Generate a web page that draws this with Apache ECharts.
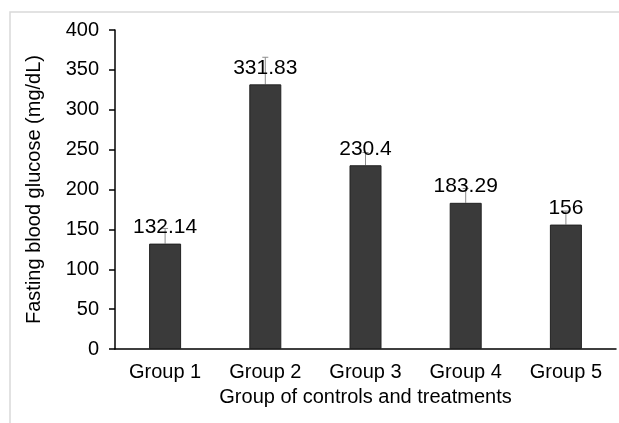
<!DOCTYPE html>
<html>
<head>
<meta charset="utf-8">
<script src="https://cdn.jsdelivr.net/npm/echarts@6/dist/echarts.min.js"></script>
<style>
  html, body { margin: 0; padding: 0; background: #fff; }
  #main { width: 619px; height: 423px; }
</style>
</head>
<body>
<div id="main"></div>
<script>
// data
var groups = ["Group 1", "Group 2", "Group 3", "Group 4", "Group 5"];
var glucose = [132.14, 331.83, 230.4, 183.29, 156];
var errors = [19, 34, 16, 18, 17];
var yTicks = [0, 400, 50];

var chart = echarts.init(document.getElementById("main"));

// upper error bar: line from the bar top to value + error, with a small cap
function renderError(params, api) {
  var x = api.value(0);
  var top = api.coord([x, api.value(1) + api.value(2)]);
  var base = api.coord([x, api.value(1)]);
  var style = { stroke: "#8c8c8c", lineWidth: 1 };
  return {
    type: "group",
    children: [
      { type: "line", shape: { x1: base[0], y1: base[1], x2: top[0], y2: top[1] }, style: style },
      { type: "line", shape: { x1: top[0] - 3, y1: top[1], x2: top[0] + 3, y2: top[1] }, style: style }
    ]
  };
}

var errData = glucose.map(function (v, i) {
  return [i, v, errors[i]];
});

var option = {
  animation: false,
  backgroundColor: "#fff",
  textStyle: { fontFamily: "Liberation Sans, Arial, sans-serif" },
  graphic: [{
    type: "rect",
    shape: { x: 10, y: 12, width: 640, height: 440 },
    style: { fill: "none", stroke: "#d9d9d9", lineWidth: 1.5 },
    silent: true
  }],
  grid: { left: 115, top: 30, right: 3, bottom: 74 },
  xAxis: {
    type: "category",
    data: groups,
    axisLine: { lineStyle: { color: "#000", width: 1.5 } },
    axisTick: { length: 6, lineStyle: { color: "#000", width: 1.5 } },
    axisLabel: { color: "#000", fontSize: 20, margin: 13 },
    name: "Group of controls and treatments",
    nameLocation: "middle",
    nameGap: 38,
    nameTextStyle: { color: "#000", fontSize: 20 }
  },
  yAxis: {
    type: "value",
    min: yTicks[0],
    max: yTicks[1],
    interval: yTicks[2],
    splitLine: { show: false },
    axisLine: { show: true, lineStyle: { color: "#000", width: 1.5 } },
    axisTick: { show: true, length: 6, lineStyle: { color: "#000", width: 1.5 } },
    axisLabel: { color: "#000", fontSize: 20, margin: 16 },
    name: "Fasting blood glucose (mg/dL)",
    nameLocation: "middle",
    nameGap: 71,
    nameTextStyle: { color: "#000", fontSize: 20 }
  },
  series: [
    {
      type: "bar",
      data: glucose,
      barWidth: 32,
      itemStyle: { color: "#3a3a3a", borderColor: "#222", borderWidth: 1 },
      label: {
        show: true,
        position: "top",
        distance: 6,
        color: "#000",
        fontSize: 21
      },
      z: 2
    },
    {
      type: "custom",
      renderItem: renderError,
      data: errData,
      encode: { x: 0, y: 1 },
      z: 1
    }
  ]
};

chart.setOption(option);
</script>
</body>
</html>
